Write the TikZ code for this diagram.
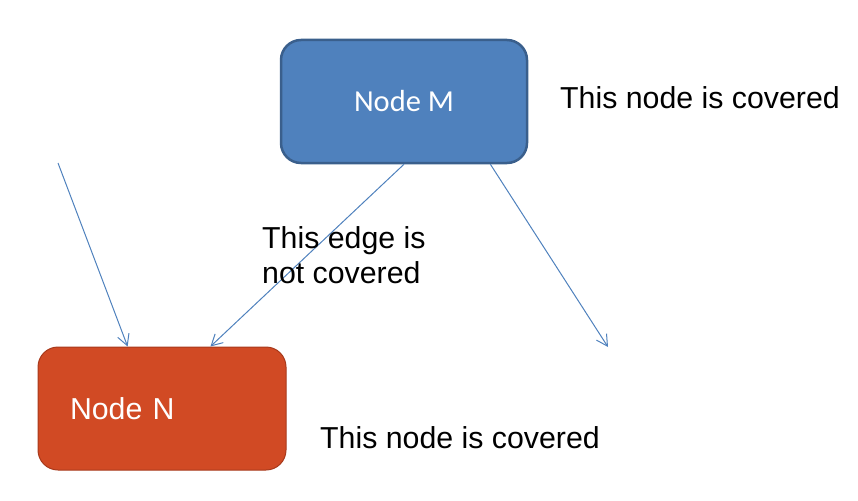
\documentclass[tikz,border=0pt]{standalone}
\usepackage{fontspec}
\setmainfont{Liberation Sans}
\newfontfamily\calibri{Carlito}
\usetikzlibrary{arrows.meta}
\definecolor{mblue}{HTML}{4F81BD}
\definecolor{mborder}{HTML}{3A5F8C}
\definecolor{norange}{HTML}{D14A24}
\definecolor{nborder}{HTML}{A83A1C}
\tikzset{
  fleche/.style={draw=mblue, line width=1pt, -{Straight Barb[length=11pt,width=12pt]}},
  texte/.style={anchor=west, inner sep=0pt, font=\fontsize{30.3}{35}\selectfont, align=left}
}
\begin{document}
\begin{tikzpicture}[x=1pt,y=-1pt]
            \useasboundingbox (0,0) rectangle (858,500);
            \node[draw=mborder, line width=2.5pt, fill=mblue, rounded corners=20pt, minimum width=246pt, minimum height=123pt, text=white, font=\calibri\fontsize{30.5}{36}\selectfont] (M) at (404,101.5) {Node M}; %Noeud du haut
            \node[draw=nborder, line width=1pt, fill=norange, rounded corners=20pt, minimum width=248pt, minimum height=123pt, inner xsep=32pt, text width=184pt, align=left, text=white, font=\fontsize{30.3}{35}\selectfont] (N) at (162,408.5) {\raisebox{-4pt}{Node N}}; %Noeud du bas
            \coordinate (depart) at (58,163);
            \coordinate (arrivee) at (608,347);
            \draw[fleche] (depart) -- (N.119); %Arete entrante
            \draw[fleche] (M.south) -- (N.52); %Arete non couverte
            \draw[fleche] (M.-36) -- (arrivee); %Arete sortante
            \node[texte] (couvM) at (560,98) {This node is covered};
            \node[texte] (arete) at (262,255) {This edge is\\not covered};
            \node[texte] (couvN) at (320,438) {This node is covered};
        \end{tikzpicture}
\end{document}
